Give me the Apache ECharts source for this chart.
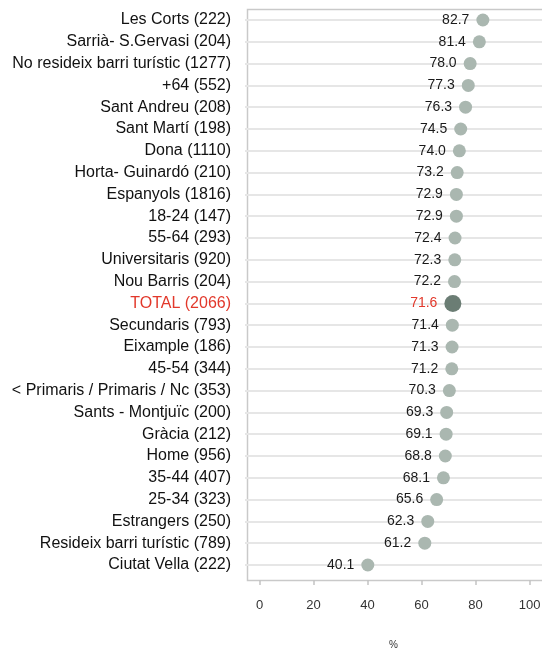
<!DOCTYPE html>
<html>
<head>
<meta charset="utf-8">
<script src="https://cdn.jsdelivr.net/npm/echarts@6/dist/echarts.min.js"></script>
<style>html,body{margin:0;padding:0;background:#fff}#c{width:542px;height:649px}</style>
</head>
<body>
<div id="c"></div>
<script>
var categories = ["Les Corts (222)","Sarrià- S.Gervasi (204)","No resideix barri turístic (1277)","+64 (552)","Sant Andreu (208)","Sant Martí (198)","Dona (1110)","Horta- Guinardó (210)","Espanyols (1816)","18-24 (147)","55-64 (293)","Universitaris (920)","Nou Barris (204)","TOTAL (2066)","Secundaris (793)","Eixample (186)","45-54 (344)","< Primaris / Primaris / Nc (353)","Sants - Montjuïc (200)","Gràcia (212)","Home (956)","35-44 (407)","25-34 (323)","Estrangers (250)","Resideix barri turístic (789)","Ciutat Vella (222)"];
var values = [82.7,81.4,78.0,77.3,76.3,74.5,74.0,73.2,72.9,72.9,72.4,72.3,72.2,71.6,71.4,71.3,71.2,70.3,69.3,69.1,68.8,68.1,65.6,62.3,61.2,40.1];
var xTicks = [0,20,40,60,80,100];
var totalName = "TOTAL (2066)";

var RED = '#e2382b';
var chart = echarts.init(document.getElementById('c'));
var data = values.map(function(v,i){
  var isT = categories[i] === totalName;
  return {
    value: [v, categories[i]],
    symbolSize: isT ? 17 : 13,
    itemStyle: {color: isT ? '#6b7d74' : '#aab7b0', opacity: 1},
    label: {color: isT ? RED : '#1a1a1a'}
  };
});
chart.setOption({
  animation: false,
  textStyle: {fontFamily: 'Liberation Sans, Arial, sans-serif'},
  grid: {left: 245, right: 0, top: 20, bottom: 84, containLabel: false, outerBoundsMode: 'none'},
  graphic: [{
    type: 'rect', left: 245, top: 7, z: 0,
    shape: {x: 0, y: 0, width: 330, height: 571},
    style: {fill: 'none', stroke: '#c9c9c9', lineWidth: 1.5}
  }],
  xAxis: {
    type: 'value', min: -5.37, max: 104.6,
    axisLine: {show: false},
    offset: 15,
    axisTick: {show: true, length: 5, customValues: xTicks, lineStyle: {color: '#c4c4c4', width: 1.5}},
    axisLabel: {customValues: xTicks, color: '#333', fontSize: 13, margin: 19},
    splitLine: {show: false},
    name: '%', nameLocation: 'middle', nameGap: 60,
    nameTextStyle: {fontSize: 10, color: '#333'}
  },
  yAxis: {
    type: 'category', data: categories, inverse: true, boundaryGap: false,
    axisLine: {show: false}, axisTick: {show: false},
    axisLabel: {fontSize: 16, margin: 14,
      color: function(v){ return v === totalName ? RED : '#111'; }},
    splitLine: {show: true, lineStyle: {color: '#e6e6e6', width: 2}}
  },
  series: [{
    type: 'scatter', data: data, z: 3,
    label: {show: true, position: 'left', distance: 7, fontSize: 14,
      formatter: function(p){ return p.value[0].toFixed(1); }}
  }]
});
</script>
</body>
</html>
